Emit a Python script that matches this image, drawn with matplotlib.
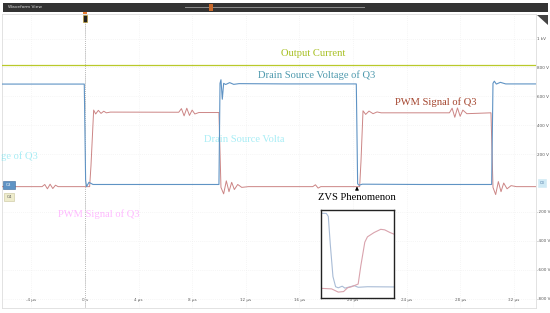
import matplotlib

matplotlib.use("Agg")

import matplotlib.pyplot as plt
from matplotlib.patches import Rectangle, Polygon

# --- data (time in µs, voltage in V), as (t, v) points ---
current_pts = [(-6.2, 815), (33.7, 815)]

ds_pts = [(-6.2, 685), (-0.05, 685), (0.05, 20), (0.12, -25), (0.3, 5), (0.6, -10), (5.0, -10),
          (10.0, -10), (10.08, 690), (10.15, 715), (10.25, 580), (10.35, 690), (10.5, 682),
          (10.8, 695), (11.1, 683), (11.5, 688), (15.0, 686), (20.25, 686), (20.35, -5),
          (20.45, -15), (20.7, -8), (25.0, -10), (30.35, -10), (30.45, 690), (30.55, 705),
          (30.7, 685), (31.0, 697), (31.4, 686), (33.7, 686)]

pwm_pts = [(-6.2, -25), (-3.2, -25), (-3.0, -10), (-2.8, -40), (-2.6, -8), (-2.4, -38), (-2.2, -15),
           (-2.0, -25), (0.35, -25), (0.45, 120), (0.65, 505), (0.8, 478), (1.0, 503), (1.2, 482),
           (1.4, 497), (1.6, 486), (1.9, 491), (7.0, 490), (7.2, 515), (7.4, 465), (7.6, 518),
           (7.8, 468), (8.0, 505), (8.2, 478), (8.5, 488), (10.0, 488), (10.15, -30), (10.35, -75),
           (10.55, 15), (10.75, -60), (10.95, 5), (11.15, -45), (11.4, -10), (11.7, -30), (12.2, -25),
           (17.0, -25), (17.2, -12), (17.4, -35), (17.6, -25), (20.5, -25), (20.6, 150), (20.75, 500),
           (20.95, 475), (21.2, 498), (21.5, 480), (21.8, 492), (22.1, 486), (27.2, 486), (27.4, 518),
           (27.6, 455), (27.8, 520), (28.0, 462), (28.2, 505), (28.5, 480), (30.3, 486), (30.45, -30),
           (30.65, -80), (30.85, 10), (31.05, -60), (31.25, 0), (31.5, -40), (31.8, -18), (32.2, -25),
           (33.7, -25)]

# zoomed view around the turn-off of Q3
zoom_ds_pts = [(20.20, 690), (20.24, 688), (20.255, 660), (20.27, 400), (20.29, 100), (20.31, 5),
               (20.33, -5), (20.36, 10), (20.38, -8), (20.42, 5), (20.45, 15), (20.48, 0),
               (20.55, 5), (20.75, 3)]
zoom_pwm_pts = [(20.20, -10), (20.28, -15), (20.33, -45), (20.37, -40), (20.40, -5), (20.43, 5),
                (20.46, 20), (20.48, 30), (20.50, 200), (20.53, 420), (20.55, 470), (20.60, 510),
                (20.65, 540), (20.68, 535), (20.72, 510), (20.75, 495)]

time_ticks = [-4, 0, 4, 8, 12, 16, 20, 24, 28, 32]
time_labels = ["-4 µs", "0 s", "4 µs", "8 µs", "12 µs", "16 µs", "20 µs", "24 µs", "28 µs", "32 µs"]
volt_ticks = [1000, 800, 600, 400, 200, -200, -400, -600, -800]
volt_labels = ["1 kV", "800 V", "600 V", "400 V", "200 V", "-200 V", "-400 V", "-600 V", "-800 V"]

C_CUR = "#b9c92a"
C_DS = "#5f93c4"
C_PWM = "#cc8585"
W, H = 550, 313


def xy(pts):
    return [p[0] for p in pts], [p[1] for p in pts]


fig = plt.figure(figsize=(5.5, 3.13), dpi=100)
fig.patch.set_facecolor("white")

ax = fig.add_axes([2 / W, (H - 308) / H, 534 / W, 294 / H])
ax.set_xlim(-6.19, 33.66)
ax.set_ylim(-865, 1170)
for s in ax.spines.values():
    s.set_color("#dddddd")
    s.set_linewidth(0.6)

ax.set_xticks(time_ticks)
ax.set_xticklabels(time_labels)
ax.tick_params(axis="x", direction="in", length=0, pad=-7, labelsize=3, labelcolor="#555555")
ax.set_yticks(volt_ticks)
ax.set_yticklabels(volt_labels)
ax.yaxis.tick_right()
ax.tick_params(axis="y", direction="in", length=0, pad=1, labelsize=3, labelcolor="#555555")
ax.grid(True, color="#ededed", linestyle=(0, (1, 2)), linewidth=0.5)

ax.axvline(0, color="#666666", linestyle=(0, (1, 1.5)), linewidth=0.6, zorder=1)

ax.plot(*xy(current_pts), color=C_CUR, linewidth=0.9, zorder=3)
ax.plot(*xy(pwm_pts), color=C_PWM, linewidth=0.7, zorder=3)
ax.plot(*xy(ds_pts), color=C_DS, linewidth=0.8, zorder=4)

serif = "Liberation Serif"
ax.text(17.0, 900, "Output Current", color="#a8c024", fontsize=7.6, family=serif, ha="center", va="center")
ax.text(17.3, 745, "Drain Source Voltage of Q3", color="#4f9aae", fontsize=7.6, family=serif,
        ha="center", va="center")
ax.text(26.2, 560, "PWM Signal of Q3", color="#a4452e", fontsize=7.6, family=serif, ha="center", va="center")

# faded leftover labels from the scope screen
ax.text(11.9, 300, "Drain Source Volta", color="#3fd8ea", alpha=0.45, fontsize=7.6, family=serif,
        ha="center", va="center")
ax.text(-6.3, 185, "ge of Q3", color="#3fd8ea", alpha=0.45, fontsize=7.6, family=serif,
        ha="left", va="center")
ax.text(1.0, -215, "PWM Signal of Q3", color="#ff55ff", alpha=0.4, fontsize=7.6, family=serif,
        ha="center", va="center")

ax.text(20.3, -100, "ZVS Phenomenon", color="black", fontsize=7.6, family=serif, ha="center", va="center")
ax.annotate("", xy=(20.3, -5), xytext=(20.3, -60),
            arrowprops=dict(arrowstyle="-|>", color="black", lw=0.6, mutation_scale=5))

# channel markers
fig.patches.append(Rectangle((3 / W, (H - 189) / H), 12 / W, 8 / H, transform=fig.transFigure,
                             facecolor="#5f93c4", edgecolor="#3d6a99", lw=0.4))
fig.text(9 / W, (H - 185) / H, "C3", fontsize=3, color="white", ha="center", va="center")
fig.patches.append(Rectangle((4 / W, (H - 201) / H), 10 / W, 8 / H, transform=fig.transFigure,
                             facecolor="#eeeccc", edgecolor="#c8c49a", lw=0.4))
fig.text(9 / W, (H - 197) / H, "C4", fontsize=3, color="#555555", ha="center", va="center")
fig.patches.append(Rectangle((538 / W, (H - 187) / H), 8 / W, 8 / H, transform=fig.transFigure,
                             facecolor="#cfeaf5", edgecolor="#cfeaf5", lw=0.4))
fig.text(542 / W, (H - 183) / H, "C3", fontsize=2.5, color="#3d6a99", ha="center", va="center")

# header bar
fig.patches.append(Rectangle((3 / W, (H - 12) / H), 545 / W, 9 / H, transform=fig.transFigure,
                             facecolor="#333333", edgecolor="none"))
fig.text(8 / W, (H - 7.5) / H, "Waveform View", fontsize=3.2, color="#dddddd", ha="left", va="center")
fig.patches.append(Rectangle((185 / W, (H - 8) / H), 180 / W, 1 / H, transform=fig.transFigure,
                             facecolor="#8a8a8a", edgecolor="none"))
fig.patches.append(Rectangle((209 / W, (H - 10.5) / H), 4 / W, 6 / H, transform=fig.transFigure,
                             facecolor="#c8682a", edgecolor="none"))
fig.patches.append(Rectangle((83 / W, (H - 14) / H), 4 / W, 2 / H, transform=fig.transFigure,
                             facecolor="#e87a30", edgecolor="none"))
fig.patches.append(Rectangle((83 / W, (H - 22) / H), 4 / W, 7 / H, transform=fig.transFigure,
                             facecolor="#222222", edgecolor="#c8a020", lw=0.4))
fig.patches.append(Polygon([[537 / W, (H - 15) / H], [548 / W, (H - 15) / H], [548 / W, (H - 25) / H]],
                           closed=True, transform=fig.transFigure, facecolor="#444444", edgecolor="none"))

# inset zoom
ins = fig.add_axes([321 / W, (H - 298) / H, 73 / W, 88 / H])
ins.set_xlim(20.2, 20.75)
ins.set_ylim(-100, 720)
ins.plot(*xy(zoom_ds_pts), color="#a9bcd6", linewidth=0.8)
ins.plot(*xy(zoom_pwm_pts), color="#d9a3ad", linewidth=0.8)
ins.set_xticks([])
ins.set_yticks([])
for s in ins.spines.values():
    s.set_color("#222222")
    s.set_linewidth(1.0)

fig.savefig("out.png", dpi=100)
